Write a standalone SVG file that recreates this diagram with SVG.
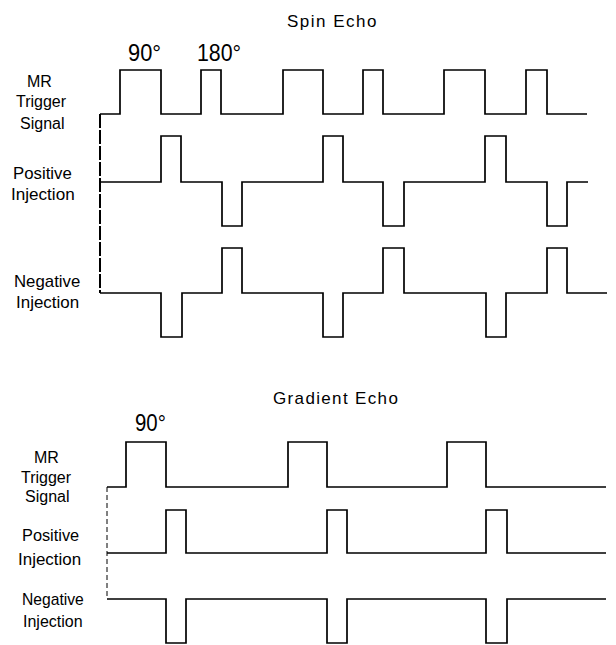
<svg xmlns="http://www.w3.org/2000/svg" width="616" height="645" viewBox="0 0 616 645">
<style>
text{font-family:"Liberation Sans",Arial,sans-serif;fill:#000}
.t{font-size:17px}
.a{font-size:24px}
.l{font-size:16px}
.w{fill:none;stroke:#000;stroke-width:1.7;stroke-linejoin:miter}
.d1{fill:none;stroke:#000;stroke-width:2;stroke-dasharray:14 2}
.d2{fill:none;stroke:#000;stroke-width:1;stroke-dasharray:5 3}
</style>
<rect width="616" height="645" fill="#fff"/>
<g id="spin-echo">
  <text class="t" x="287" y="27" letter-spacing="1.5">Spin Echo</text>
  <text class="a" transform="translate(128,61) scale(0.91,1)">90°</text>
  <text class="a" transform="translate(197,61) scale(0.89,1)">180°</text>
  <g id="spin-labels">
    <text class="l" x="27" y="87">MR</text>
    <text class="l" x="16" y="107">Trigger</text>
    <text class="l" x="20" y="129">Signal</text>
    <text class="l" transform="translate(13,179) scale(1.05,1)">Positive</text>
    <text class="l" transform="translate(11,200) scale(1.07,1)">Injection</text>
    <text class="l" transform="translate(14,287) scale(1.05,1)">Negative</text>
    <text class="l" transform="translate(16,308) scale(1.06,1)">Injection</text>
  </g>
  <g id="spin-waves">
    <path class="d1" d="M100,114 V293"/>
    <path id="spin-mr" class="w" d="M100,114 H120 V70 H161 V114 H201 V70 H221 V114 H283 V70 H323 V114 H363 V70 H383 V114 H444 V70 H485 V114 H526 V70 H547 V114 H587"/>
    <path id="spin-pos" class="w" d="M100,182 H161 V136 H181 V182 H222 V226 H242 V182 H323 V136 H343 V182 H383 V226 H404 V182 H485 V136 H506 V182 H547 V226 H567 V182 H588"/>
    <path id="spin-neg" class="w" d="M100,293 H161 V337 H182 V293 H222 V248 H242 V293 H323 V337 H343 V293 H383 V248 H404 V293 H486 V337 H506 V293 H547 V248 H567 V293 H607"/>
  </g>
</g>
<g id="gradient-echo">
  <text class="t" x="273" y="404" letter-spacing="1.35">Gradient Echo</text>
  <text class="a" transform="translate(135,431) scale(0.85,1)">90°</text>
  <g id="grad-labels">
    <text class="l" x="34" y="463">MR</text>
    <text class="l" x="21" y="483">Trigger</text>
    <text class="l" x="25" y="502">Signal</text>
    <text class="l" transform="translate(22,541) scale(1.02,1)">Positive</text>
    <text class="l" transform="translate(18,565) scale(1.06,1)">Injection</text>
    <text class="l" transform="translate(22,605) scale(0.98,1)">Negative</text>
    <text class="l" x="23" y="627">Injection</text>
  </g>
  <g id="grad-waves">
    <path class="d2" d="M107,487 V599"/>
    <path id="grad-mr" class="w" d="M107,487 H126 V442 H166 V487 H288 V442 H327 V487 H447 V442 H486 V487 H606"/>
    <path id="grad-pos" class="w" d="M107,553 H166 V510 H186 V553 H327 V510 H347 V553 H486 V510 H507 V553 H606"/>
    <path id="grad-neg" class="w" d="M107,599 H166 V643 H186 V599 H327 V643 H347 V599 H486 V643 H507 V599 H606"/>
  </g>
</g>
</svg>
